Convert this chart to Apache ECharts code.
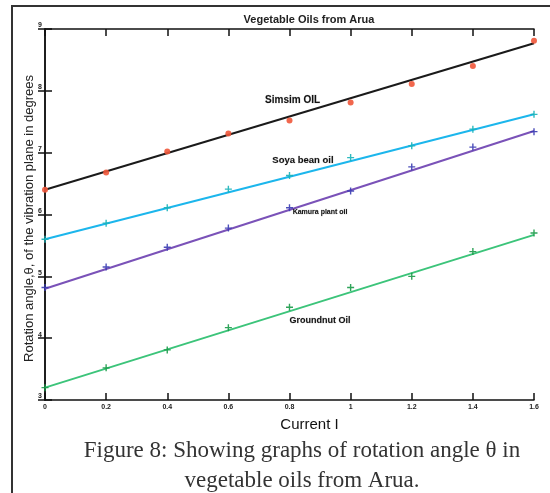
<!DOCTYPE html>
<html>
<head>
<meta charset="utf-8">
<script src="https://cdn.jsdelivr.net/npm/echarts@6/dist/echarts.min.js"></script>
<style>
  html, body { margin: 0; padding: 0; background: #fff; }
  #chart { width: 550px; height: 493px; }
</style>
</head>
<body>
<div id="chart"></div>
<script>
// measured values (Current I vs rotation angle)
var currents = [0, 0.2, 0.4, 0.6, 0.8, 1.0, 1.2, 1.4, 1.6];
var xTickLabels = ["0", "0.2", "0.4", "0.6", "0.8", "1", "1.2", "1.4", "1.6"];
var yTickLabels = ["3", "4", "5", "6", "7", "8", "9"];

var simsim = [6.4, 6.68, 7.02, 7.31, 7.52, 7.81, 8.11, 8.4, 8.81];
var soya = [5.6, 5.86, 6.11, 6.41, 6.63, 6.92, 7.11, 7.38, 7.62];
var kamura = [4.82, 5.15, 5.47, 5.78, 6.11, 6.38, 6.77, 7.09, 7.34];
var groundnut = [3.2, 3.52, 3.81, 4.17, 4.5, 4.82, 5.0, 5.4, 5.7];

// fitted lines, end values
var fitX = [0, 1.6];
var simsimFit = [6.4, 8.77];
var soyaFit = [5.6, 7.62];
var kamuraFit = [4.8, 7.35];
var groundnutFit = [3.2, 5.67];

var seriesNames = ["Simsim OIL", "Soya bean oil", "Kamura plant oil", "Groundnut Oil"];
// where the in-plot names sit (data coords)
var nameAt = [[0.81, 7.84], [0.844, 6.88], [0.9, 6.04], [0.9, 4.29]];

var chart = echarts.init(document.getElementById("chart"));

var plus = "path://M4,0H6V4H10V6H6V10H4V6H0V4H4Z";

function pairs(xs, ys) {
  var out = [];
  for (var i = 0; i < xs.length; i++) out.push([xs[i], ys[i]]);
  return out;
}

function fitLine(name, ys, color, idx, fontSize) {
  return {
    name: name,
    type: "line",
    data: pairs(fitX, ys),
    symbol: "none",
    silent: true,
    z: 2,
    lineStyle: { color: color, width: 2 },
    markPoint: {
      symbol: "circle",
      symbolSize: 0,
      silent: true,
      label: {
        show: true,
        position: "inside",
        formatter: name,
        color: "#111",
        fontFamily: "Liberation Sans",
        fontWeight: "bold",
        fontSize: fontSize,
        textBorderColor: "rgba(0,0,0,0.25)",
        textBorderWidth: 0.5
      },
      data: [{ coord: nameAt[idx] }]
    }
  };
}

function points(name, ys, color, symbol, size) {
  return {
    name: name + " data",
    type: "scatter",
    data: pairs(currents, ys),
    symbol: symbol,
    symbolSize: size,
    z: 3,
    itemStyle: { color: color, opacity: 0.9 }
  };
}

var axisLine = { show: true, lineStyle: { color: "#111", width: 1.5 } };
var inTick = { show: true, inside: true, length: 7, lineStyle: { color: "#111", width: 1.5 } };
var tickFont = { fontFamily: "Liberation Sans", fontSize: 7, fontWeight: "bold", color: "#222" };

var option = {
  animation: false,
  backgroundColor: "#fff",
  grid: { left: 45, right: 16, top: 29, bottom: 93 },
  title: {
    text: "Vegetable Oils from Arua",
    left: 304,
    top: 9,
    textAlign: "center",
    textStyle: { fontFamily: "Liberation Sans", fontSize: 11, fontWeight: "bold", color: "#222" }
  },
  xAxis: [
    {
      type: "value", min: 0, max: 1.6, interval: 0.2,
      axisLine: axisLine, axisTick: inTick, splitLine: { show: false },
      axisLabel: Object.assign({
        margin: 4,
        formatter: function (v) { return xTickLabels[Math.round(v / 0.2)]; }
      }, tickFont),
      name: "Current I",
      nameLocation: "middle",
      nameGap: 17,
      nameTextStyle: { fontFamily: "Liberation Sans", fontSize: 15, color: "#111", padding: [0, 0, 0, 40] }
    },
    {
      type: "value", position: "top", min: 0, max: 1.6, interval: 0.2,
      axisLine: axisLine, axisTick: inTick, axisLabel: { show: false }, splitLine: { show: false }
    }
  ],
  yAxis: [
    {
      type: "value", min: 3, max: 9, interval: 1,
      axisLine: axisLine, axisTick: inTick, splitLine: { show: false },
      axisLabel: Object.assign({
        margin: 3,
        verticalAlign: "bottom",
        formatter: function (v) { return yTickLabels[Math.round(v - 3)]; }
      }, tickFont),
      name: "Rotation angle,\u03b8, of the vibration plane in degrees",
      nameLocation: "middle",
      nameGap: 9,
      nameMoveOverlap: false,
      nameTextStyle: { fontFamily: "Liberation Sans", fontSize: 13, color: "#222", padding: [0, 0, 0, -8] }
    },
    {
      type: "value", position: "right", min: 3, max: 9, interval: 1,
      axisLine: axisLine, axisTick: inTick, axisLabel: { show: false }, splitLine: { show: false }
    }
  ],
  graphic: [
    {
      type: "rect",
      shape: { x: 12, y: 6, width: 560, height: 520 },
      style: { fill: "none", stroke: "#333", lineWidth: 2 },
      silent: true
    },
    {
      type: "text",
      x: 302,
      y: 436,
      style: {
        text: "Figure 8: Showing graphs of rotation angle \u03b8 in\nvegetable oils from Arua.",
        fontFamily: "Liberation Serif",
        fontSize: 23,
        lineHeight: 30,
        fill: "#333",
        align: "center"
      }
    }
  ],
  series: [
    fitLine(seriesNames[0], simsimFit, "#1a1a1a", 0, 10),
    fitLine(seriesNames[1], soyaFit, "#1cb6ec", 1, 9.5),
    fitLine(seriesNames[2], kamuraFit, "#7a52b8", 2, 7),
    fitLine(seriesNames[3], groundnutFit, "#3cc47a", 3, 9),
    points(seriesNames[0], simsim, "#f0563a", "circle", 6),
    points(seriesNames[1], soya, "#18b3b8", plus, 7),
    points(seriesNames[2], kamura, "#3a3cb2", plus, 7),
    points(seriesNames[3], groundnut, "#1a9a48", plus, 7)
  ]
};

chart.setOption(option);
</script>
</body>
</html>
